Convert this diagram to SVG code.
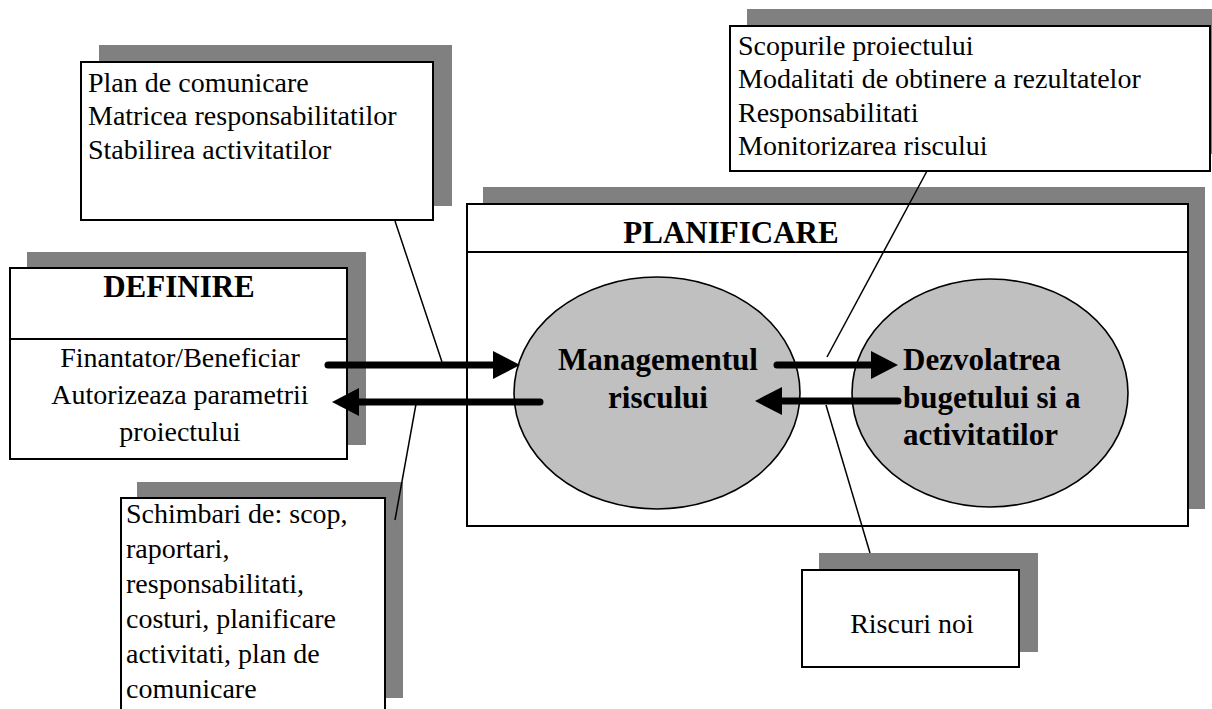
<svg xmlns="http://www.w3.org/2000/svg" width="1212" height="709" viewBox="0 0 1212 709">
  <style>
    .shadow { fill: #808080; }
    .box { fill: #ffffff; stroke: #000000; stroke-width: 2; }
    .sep { stroke: #000000; stroke-width: 2; }
    .ell { fill: #c0c0c0; stroke: #000000; stroke-width: 1.6; }
    .t { font-family: "Liberation Serif", "Times New Roman", serif; font-size: 28px; fill: #000000; }
    .b { font-family: "Liberation Serif", "Times New Roman", serif; font-size: 31px; font-weight: bold; fill: #000000; }
    .c { text-anchor: middle; }
    .lead { stroke: #000000; stroke-width: 1.5; fill: none; }
    .shaft { stroke: #000000; stroke-width: 7; stroke-linecap: round; fill: none; marker-end: url(#head); }
  </style>
  <defs>
    <marker id="head" markerUnits="userSpaceOnUse" markerWidth="28" markerHeight="30" refX="0" refY="15" orient="auto">
      <path d="M0,1 L27,15 L0,29 Z" fill="#000000"/>
    </marker>
  </defs>

  <!-- top-left note -->
  <g id="note-plan">
    <rect class="shadow" x="99" y="45" width="353" height="161"/>
    <rect class="box" x="81" y="62" width="352" height="158"/>
    <text class="t" x="88" y="92">Plan de comunicare</text>
    <text class="t" x="88" y="125">Matricea responsabilitatilor</text>
    <text class="t" x="88" y="159">Stabilirea activitatilor</text>
  </g>

  <!-- top-right note -->
  <g id="note-scopuri">
    <rect class="shadow" x="747" y="9" width="480" height="145"/>
    <rect class="box" x="730" y="26" width="480" height="145"/>
    <text class="t" x="738" y="55">Scopurile proiectului</text>
    <text class="t" x="738" y="88">Modalitati de obtinere a rezultatelor</text>
    <text class="t" x="738" y="122">Responsabilitati</text>
    <text class="t" x="738" y="155">Monitorizarea riscului</text>
  </g>

  <!-- DEFINIRE -->
  <g id="definire">
    <rect class="shadow" x="27" y="252" width="339" height="193"/>
    <rect class="box" x="10" y="268" width="337" height="191"/>
    <line class="sep" x1="10" y1="339" x2="347" y2="339"/>
    <text class="b c" x="179" y="297">DEFINIRE</text>
    <text class="t c" x="180" y="367">Finantator/Beneficiar</text>
    <text class="t c" x="180" y="404">Autorizeaza parametrii</text>
    <text class="t c" x="180" y="441">proiectului</text>
  </g>

  <!-- PLANIFICARE -->
  <g id="planificare">
    <rect class="shadow" x="483" y="187" width="722" height="322"/>
    <rect class="box" x="467" y="204" width="721" height="322"/>
    <line class="sep" x1="467" y1="252" x2="1188" y2="252"/>
    <text class="b c" x="731" y="243">PLANIFICARE</text>
  </g>

  <g id="managementul">
    <ellipse class="ell" cx="657" cy="393" rx="143" ry="116"/>
    <text class="b c" x="658" y="370">Managementul</text>
    <text class="b c" x="658" y="408">riscului</text>
  </g>

  <g id="dezvoltarea">
    <ellipse class="ell" cx="990" cy="393" rx="138" ry="114"/>
    <text class="b" x="903" y="370">Dezvolatrea</text>
    <text class="b" x="903" y="408">bugetului si a</text>
    <text class="b" x="903" y="445">activitatilor</text>
  </g>

  <!-- bottom-left note -->
  <g id="note-schimbari">
    <rect class="shadow" x="137" y="482" width="266" height="216"/>
    <rect class="box" x="121" y="498" width="264" height="220"/>
    <text class="t" x="126" y="523">Schimbari de: scop,</text>
    <text class="t" x="126" y="558">raportari,</text>
    <text class="t" x="126" y="593">responsabilitati,</text>
    <text class="t" x="126" y="628">costuri, planificare</text>
    <text class="t" x="126" y="663">activitati, plan de</text>
    <text class="t" x="126" y="698">comunicare</text>
  </g>

  <!-- bottom-right note -->
  <g id="note-riscuri">
    <rect class="shadow" x="819" y="553" width="219" height="99"/>
    <rect class="box" x="802" y="570" width="217" height="97"/>
    <text class="t c" x="912" y="633">Riscuri noi</text>
  </g>

  <!-- connectors: flow arrows and callout leaders -->
  <g id="connectors">
    <line class="shaft" x1="328" y1="365" x2="493" y2="365"/>
    <line class="shaft" x1="540" y1="402" x2="359" y2="402"/>
    <line class="shaft" x1="777" y1="365" x2="871" y2="365"/>
    <line class="shaft" x1="898" y1="401" x2="782" y2="401"/>
    <line class="lead" x1="395" y1="221" x2="442" y2="362"/>
    <line class="lead" x1="416" y1="404" x2="395" y2="520"/>
    <line class="lead" x1="927" y1="171" x2="827" y2="357"/>
    <line class="lead" x1="826" y1="405" x2="870" y2="553"/>
  </g>
</svg>
